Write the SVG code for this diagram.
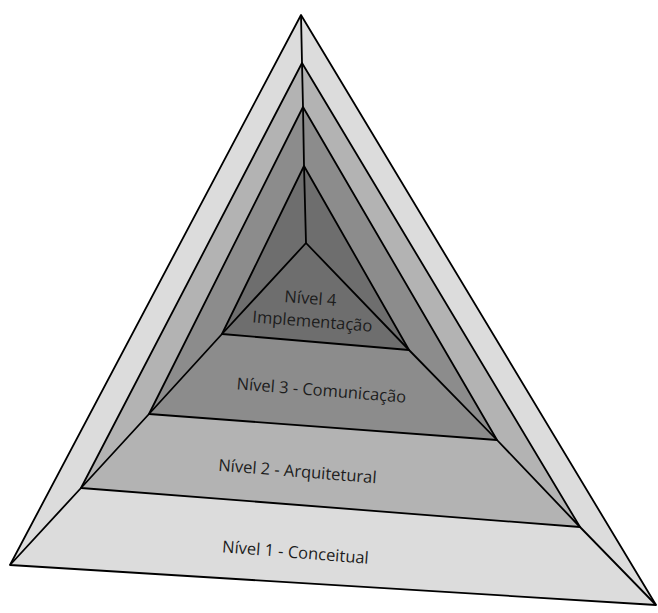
<svg xmlns="http://www.w3.org/2000/svg" width="658" height="613" viewBox="0 0 658 613">
<style>
.lv{stroke:#000;stroke-width:1.8;stroke-linejoin:round}
.l1{fill:#dcdcdc}.l2{fill:#b3b3b3}.l3{fill:#8c8c8c}.l4{fill:#6e6e6e}
.cn{fill:none;stroke:#000;stroke-width:1.8;stroke-linejoin:round}
.t{font-family:"Open Sans","Noto Sans",sans-serif;font-size:16.5px;fill:#1c1c1c;text-anchor:middle}
</style>
<rect width="658" height="613" fill="#fff"/>
<g id="nivel1">
<polygon class="lv l1" points="301,15 10,565 656,605"/>
</g>
<g id="nivel2">
<polygon class="lv l2" points="302,63 81,488 580,527"/>
</g>
<g id="nivel3">
<polygon class="lv l3" points="303,107 149,414 497,440"/>
</g>
<g id="nivel4">
<polygon class="lv l4" points="304,166 222,334 409,350"/>
</g>
<g id="connectors">
<polyline class="cn" points="301,15 302,63 303,107 304,166 306,243"/>
<polyline class="cn" points="10,565 81,488 149,414 222,334 306,243"/>
<polyline class="cn" points="656,605 580,527 497,440 409,350 306,243"/>
</g>
<g id="labels">
<text class="t" transform="translate(310,304) rotate(4.5)">Nível 4</text>
<text class="t" transform="translate(312,327) rotate(4.5)">Implementação</text>
<text class="t" transform="translate(321,396) rotate(4.5)">Nível 3 - Comunicação</text>
<text class="t" transform="translate(297,477) rotate(4.5)">Nível 2 - Arquitetural</text>
<text class="t" transform="translate(295,558) rotate(4.5)">Nível 1 - Conceitual</text>
</g>
</svg>
